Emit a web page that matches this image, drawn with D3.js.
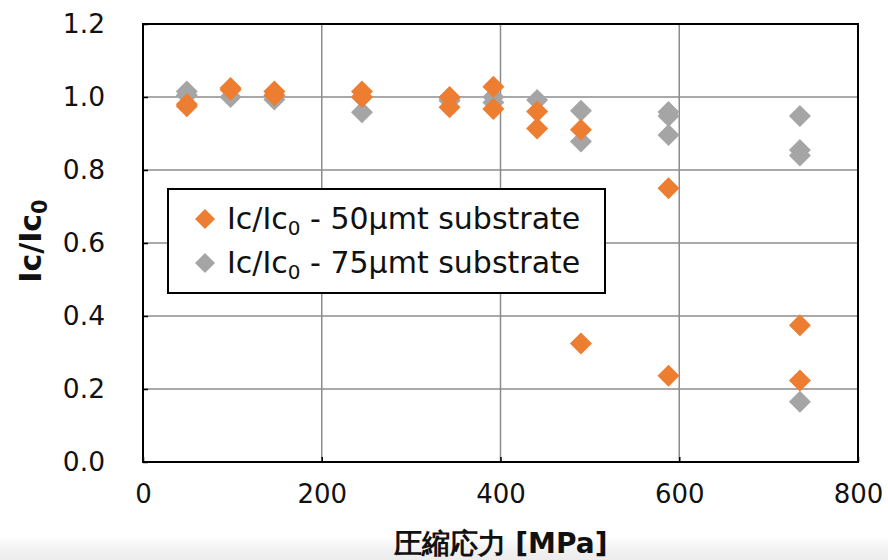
<!DOCTYPE html>
<html>
<head>
<meta charset="utf-8">
<script src="https://cdn.jsdelivr.net/npm/d3@7"></script>
<style>
  html, body { margin: 0; padding: 0; background: #fff; }
  svg { display: block; }
  text { font-family: "DejaVu Sans", Verdana, sans-serif; fill: #111; }
</style>
</head>
<body>
<svg id="chart" width="888" height="560"></svg>
<script>
// Compressive stress (MPa) and normalised critical current for each substrate thickness
const stress50 = [49, 49, 98, 98, 147, 147, 245, 245, 343, 343, 392, 392, 441, 441, 490, 490, 588, 588, 735, 735];
const icRatio50 = [0.98, 0.975, 1.025, 1.02, 1.015, 1.005, 1.015, 1.0, 1.0, 0.972, 1.028, 0.967, 0.96, 0.914, 0.91, 0.325, 0.75, 0.236, 0.375, 0.223];

const stress75 = [49, 49, 98, 147, 245, 245, 343, 343, 392, 392, 441, 490, 490, 588, 588, 588, 735, 735, 735, 735];
const icRatio75 = [1.015, 1.005, 1.0, 0.993, 1.0, 0.958, 0.995, 0.99, 1.0, 0.985, 0.992, 0.962, 0.878, 0.959, 0.948, 0.896, 0.948, 0.855, 0.84, 0.165];

const xTicks = [0, 200, 400, 600, 800];
const yTicks = [0.0, 0.2, 0.4, 0.6, 0.8, 1.0, 1.2];

const seriesNames = ["50μmt substrate", "75μmt substrate"];
const seriesColors = ["#ED7D31", "#A5A5A5"];

const W = 888, H = 560;
const margin = { top: 24, right: 30, bottom: 98, left: 143 };
const iw = W - margin.left - margin.right;
const ih = H - margin.top - margin.bottom;

const svg = d3.select("#chart");

// soft grey band along the bottom edge
const defs = svg.append("defs");
const grad = defs.append("linearGradient").attr("id", "bottomBand").attr("x1", 0).attr("x2", 0).attr("y1", 0).attr("y2", 1);
grad.append("stop").attr("offset", "0%").attr("stop-color", "#ffffff");
grad.append("stop").attr("offset", "60%").attr("stop-color", "#f1f1f1");
grad.append("stop").attr("offset", "100%").attr("stop-color", "#ececec");
svg.append("rect").attr("x", 0).attr("y", 536).attr("width", W).attr("height", 24).attr("fill", "url(#bottomBand)");

const g = svg.append("g").attr("transform", `translate(${margin.left},${margin.top})`);

const x = d3.scaleLinear().domain([0, 800]).range([0, iw]);
const y = d3.scaleLinear().domain([0, 1.2]).range([ih, 0]);

// grid lines
g.append("g").selectAll("line").data(yTicks.slice(1, -1)).join("line")
  .attr("x1", 0).attr("x2", iw)
  .attr("y1", d => y(d)).attr("y2", d => y(d))
  .attr("stroke", "#8c8c8c").attr("stroke-width", 1.5);
g.append("g").selectAll("line").data(xTicks.slice(1, -1)).join("line")
  .attr("y1", 0).attr("y2", ih)
  .attr("x1", d => x(d)).attr("x2", d => x(d))
  .attr("stroke", "#8c8c8c").attr("stroke-width", 1.5);

// axes with inward ticks
const yAxis = d3.axisLeft(y).tickValues(yTicks).tickFormat(d3.format(".1f")).tickSizeInner(-5).tickSizeOuter(0).tickPadding(38);
const yg = g.append("g").call(yAxis);
yg.select(".domain").remove();
yg.selectAll("line").attr("stroke", "#000").attr("stroke-width", 1.5);
yg.selectAll("text").attr("font-size", 26.5).attr("fill", "#111");

const xAxis = d3.axisBottom(x).tickValues(xTicks).tickFormat(d3.format("d")).tickSizeInner(-5).tickSizeOuter(0).tickPadding(23);
const xg = g.append("g").attr("transform", `translate(0,${ih})`).call(xAxis);
xg.select(".domain").remove();
xg.selectAll("line").attr("stroke", "#000").attr("stroke-width", 1.5);
xg.selectAll("text").attr("font-size", 26).attr("fill", "#111");

// plot frame
g.append("rect").attr("x", 0).attr("y", 0).attr("width", iw).attr("height", ih)
  .attr("fill", "none").attr("stroke", "#000").attr("stroke-width", 2);

// diamond marker path around a point
function diamond(cx, cy, r) {
  return `M${cx},${cy - r}L${cx + r},${cy}L${cx},${cy + r}L${cx - r},${cy}Z`;
}
const R = 11;

const pts75 = stress75.map((s, i) => ({ s, v: icRatio75[i] }));
const pts50 = stress50.map((s, i) => ({ s, v: icRatio50[i] }));

g.append("g").selectAll("path").data(pts75).join("path")
  .attr("d", d => diamond(x(d.s), y(d.v), R))
  .attr("fill", seriesColors[1]);
g.append("g").selectAll("path").data(pts50).join("path")
  .attr("d", d => diamond(x(d.s), y(d.v), R))
  .attr("fill", seriesColors[0]);

// legend
const lg = svg.append("g").attr("transform", "translate(168,189)");
lg.append("rect").attr("width", 437).attr("height", 104)
  .attr("fill", "#fff").attr("stroke", "#000").attr("stroke-width", 2);
seriesNames.forEach((name, i) => {
  const cy = 30 + i * 44;
  lg.append("path").attr("d", diamond(37, cy, 10)).attr("fill", seriesColors[i]);
  const t = lg.append("text").attr("x", 59).attr("y", cy + 10).attr("font-size", 30);
  t.append("tspan").text("Ic/Ic");
  t.append("tspan").attr("font-size", 20).attr("dy", 6).text("0");
  t.append("tspan").attr("dy", -6).text(" - " + name);
});

// axis titles
svg.append("text")
  .attr("x", margin.left + iw / 2).attr("y", 553)
  .attr("text-anchor", "middle")
  .attr("font-family", "'Noto Sans CJK JP', sans-serif")
  .attr("font-weight", "bold").attr("font-size", 28)
  .text("圧縮応力 [MPa]");

const yt = svg.append("text")
  .attr("transform", `translate(41,${margin.top + ih / 2 - 2}) rotate(-90)`)
  .attr("text-anchor", "middle")
  .attr("font-weight", "bold").attr("font-size", 30);
yt.append("tspan").text("Ic/Ic");
yt.append("tspan").attr("font-size", 21).attr("dy", 6).text("0");
</script>
</body>
</html>
